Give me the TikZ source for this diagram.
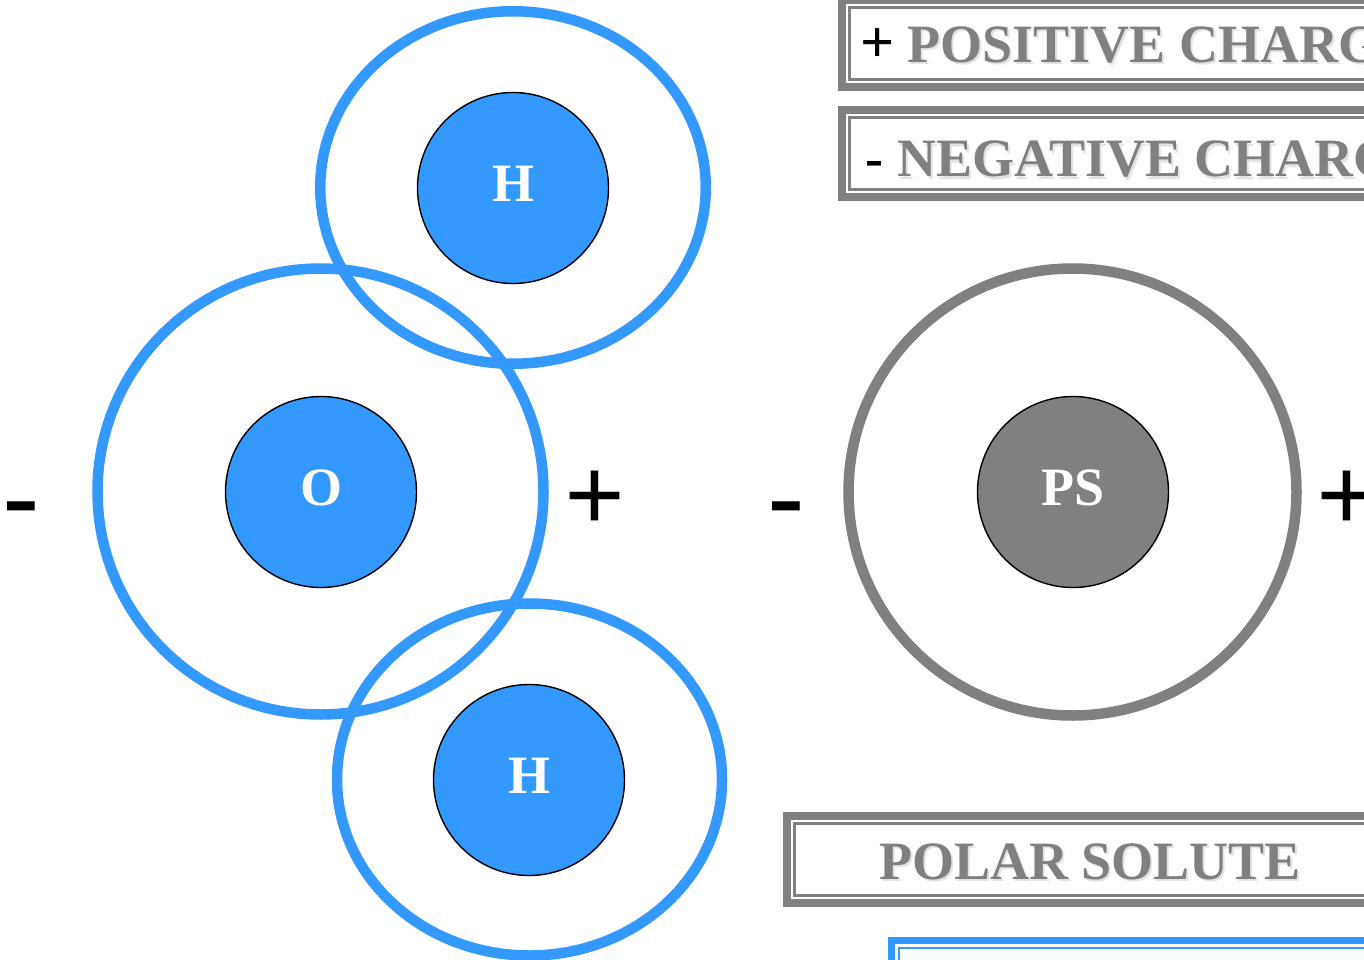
\documentclass[tikz,border=0pt]{standalone}
\usepackage{fontspec}
\setmainfont{Liberation Serif}
\usetikzlibrary{shapes.geometric}
\definecolor{waterblue}{HTML}{3399FF}
\definecolor{solutegray}{HTML}{808080}

% thick-thin frame: colour, left, top, right, bottom (outer edges)
\newcommand\thickthinframe[5]{%
  \draw[#1, line width=7.7pt] (#2+3.85,#3+3.85) rectangle (#4-3.85,#5-3.85);
  \draw[#1, line width=2.6pt] (#2+11.3,#3+11.3) rectangle (#4-11.3,#5-11.3);
}

\begin{document}
\begin{tikzpicture}[x=1pt,y=-1pt,
  shell/.style={draw, ellipse, line width=10.5pt, inner sep=0pt},
  atom/.style={circle, draw=black, line width=1.4pt, minimum size=191pt,
    inner sep=0pt, text=white, font=\fontsize{54}{54}\selectfont\bfseries,
    text height=31pt, text depth=5pt},
  charge/.style={anchor=base, inner sep=0pt,
    font=\fontsize{107}{107}\selectfont\bfseries},
  captiontext/.style={anchor=base west, inner sep=0pt, text=solutegray,
    font=\fontsize{54}{54}\selectfont\bfseries},
  captionshadow/.style={captiontext, text=black!11},
]
\useasboundingbox (0,0) rectangle (1364,960);
\fill[white] (0,0) rectangle (1364,960);
\clip (0,0) rectangle (1364,960);

% water molecule: electron shells
\node[shell, draw=waterblue, minimum width=446pt, minimum height=446pt] (oshell) at (320.5,491.5) {};
\node[shell, draw=waterblue, minimum width=385.5pt, minimum height=352.5pt] (htopshell) at (513,187.5) {};
\node[shell, draw=waterblue, minimum width=385pt, minimum height=352pt] (hbotshell) at (529.5,779.5) {};

% water molecule: nuclei
\node[atom, fill=waterblue] (oxygen) at (321,492) {O};
\node[atom, fill=waterblue] (htop) at (513,188) {H};
\node[atom, fill=waterblue] (hbot) at (529,780) {H};

% polar solute
\node[shell, draw=solutegray, minimum width=448pt, minimum height=447pt] (psshell) at (1072.5,492) {};
\node[atom, fill=solutegray] (solute) at (1073,492) {PS};

% partial charges
\node[charge] (waterneg) at (21.5,531) {-};
\node[charge] (waterpos) at (595,531) {+};
\node[charge] (soluteneg) at (786.5,531) {-};
\node[charge] (solutepos) at (1347,531) {+};

% legend and caption frames
\thickthinframe{solutegray}{838}{-4}{1420}{91}
\thickthinframe{solutegray}{838}{106}{1420}{201}
\thickthinframe{solutegray}{783}{812}{1420}{907}
\thickthinframe{waterblue}{887.5}{936.5}{1420}{1040}

% legend and caption texts
\node[captionshadow] (posshadow) at (862,65) {{\fontsize{60}{60}\selectfont\phantom{+}} POSITIVE CHARGE};
\node[captiontext] (poslabel) at (860,63) {{\color{black}\fontsize{60}{60}\selectfont+} POSITIVE CHARGE};
\node[captionshadow] (negshadow) at (867.5,179) {\phantom{-} NEGATIVE CHARGE};
\node[captiontext] (neglabel) at (865.5,177) {{\color{black}-} NEGATIVE CHARGE};
\node[captionshadow] (soluteshadow) at (881,881) {POLAR SOLUTE};
\node[captiontext] (solutelabel) at (879,879) {POLAR SOLUTE};
\end{tikzpicture}
\end{document}
